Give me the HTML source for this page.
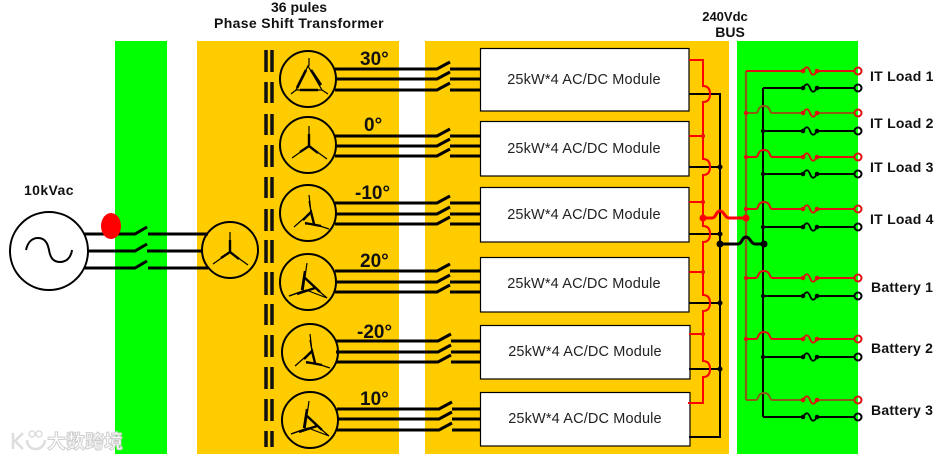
<!DOCTYPE html>
<html><head><meta charset="utf-8"><style>
html,body{margin:0;padding:0;background:#fff}
svg{display:block}
text{font-family:"Liberation Sans","Noto Sans CJK SC",sans-serif;fill:#111}
.b{font-weight:bold;font-size:14px}
.deg{font-weight:bold;font-size:19px}
.m{font-size:14.5px;text-anchor:middle;letter-spacing:.15px;fill:#222}
.l{font-weight:bold;font-size:14px;letter-spacing:.25px}
</style></head><body>
<svg width="939" height="459" viewBox="0 0 939 459" xmlns="http://www.w3.org/2000/svg">
<defs>
<g id="ph"><path d="M0 0H102L115 -7M115 0H145" fill="none" stroke="#000" stroke-width="3"/></g>
<g id="c"><circle r="28" fill="none" stroke="#000" stroke-width="2"/></g>
<g id="wye" fill="none" stroke="#000"><path d="M0 -20V0" stroke-width="1.2"/><path d="M0 -12V0" stroke-width="2.4"/><path d="M0 0L-17 12" stroke-width="1.2"/><path d="M0 0L-9 6" stroke-width="2.4"/><path d="M0 0L18 13" stroke-width="1.2"/><path d="M0 0L9 7" stroke-width="2.4"/></g>
<g id="skew" fill="none" stroke="#000"><path d="M-2 -20L0 -3L-17 12" stroke-width="1.2"/><path d="M0 -3L-2 -14" stroke-width="1.2"/><path d="M-8 5L0 -3L3 9" stroke-width="2.4"/><path d="M-6 9L3 9L18 14" stroke-width="1.2"/><path d="M-6 8L10 11" stroke-width="2.4"/></g>
<g id="skew2" fill="none" stroke="#000"><path d="M0 -20L-4 8L-18 13" stroke-width="1.2"/><path d="M-2 -12L-5 7" stroke-width="2.4"/><path d="M-18 13L-1 7L20 15" stroke-width="1.2" /><path d="M-10 11L8 5" stroke-width="2.4"/><path d="M-2 -5L13 9" stroke-width="2.4"/><path d="M13 9L20 15" stroke-width="1.2"/></g>
<g id="fuseR"><path d="M803 0c3-5 5-5 7 0s4 5 7 0" fill="none" stroke-width="1.8"/><circle cx="803" cy="0" r="1.800"/><circle cx="817" cy="0" r="1.800"/></g>
</defs>

<rect x="115" y="41" width="52" height="413" fill="#00ff00"/>
<rect x="197" y="41" width="202" height="413" fill="#ffcc00"/>
<rect x="425" y="41" width="304" height="413" fill="#ffcc00"/>
<rect x="737" y="41" width="121" height="413" fill="#00ff00"/>

<text x="299" y="12" class="b" text-anchor="middle">36 pules</text>
<text x="299" y="28" class="b" text-anchor="middle" letter-spacing=".35">Phase Shift Transformer</text>
<text x="725" y="21" class="b" text-anchor="middle" style="font-size:13px">240Vdc</text>
<text x="730" y="37" class="b" text-anchor="middle">BUS</text>
<text x="24" y="195" class="b" letter-spacing=".4">10kVac</text>

<!-- watermark -->
<g>
<path d="M13 433V449M23 433L15 441L23 449M27 440C27 452 44 452 45 440" fill="none" stroke="#ddd" stroke-width="2.5"/>
<circle cx="32" cy="434" r="3" fill="none" stroke="#ddd" stroke-width="1.5"/><circle cx="39" cy="434" r="3" fill="none" stroke="#ddd" stroke-width="1.5"/>
<text x="47" y="448" style="fill:#fff;stroke:#cfcfcf;stroke-width:1px;font-size:19px;font-weight:bold">大数跨境</text>
</g>

<!-- source -->
<circle cx="49" cy="251" r="39" fill="#fff" stroke="#000" stroke-width="2"/>
<path d="M26 250C28 241 33 238 38 238C46 238 48 245 49 250C50 256 52 262 60 262C66 262 71 258 72 250" fill="none" stroke="#000" stroke-width="2"/>
<g fill="none" stroke="#000" stroke-width="3">
<path d="M84 234H135L147 227M148 234H208"/>
<path d="M87 251H135L147 244M147 251H203"/>
<path d="M84 268H135L147 261M148 268H208"/>
</g>
<ellipse cx="111" cy="226" rx="10" ry="13" fill="#ff0000"/>
<circle cx="230" cy="250" r="28" fill="none" stroke="#000" stroke-width="2"/>
<use href="#wye" x="230" y="252"/>

<!-- core bars -->
<path d="M266 50V72M272 50V72M266 82V103M272 82V103M266 114V135M272 114V135M266 145V167M272 145V167M266 177V198M272 177V198M266 209V231M272 209V231M266 240V263M272 240V263M266 272V295M272 272V295M266 304V325M272 304V325M266 335V357M272 335V357M266 367V389M272 367V389M266 399V421M272 399V421M266 431V447M272 431V447" stroke="#111" stroke-width="3.5"/>

<!-- phase lines -->
<use href="#ph" x="335" y="69"/><use href="#ph" x="335" y="79"/><use href="#ph" x="335" y="90"/>
<use href="#ph" x="335" y="136"/><use href="#ph" x="335" y="146"/><use href="#ph" x="335" y="156"/>
<use href="#ph" x="335" y="203"/><use href="#ph" x="335" y="214"/><use href="#ph" x="335" y="224"/>
<use href="#ph" x="335" y="271"/><use href="#ph" x="335" y="282"/><use href="#ph" x="335" y="292"/>
<use href="#ph" x="336" y="341"/><use href="#ph" x="336" y="352"/><use href="#ph" x="336" y="362"/>
<use href="#ph" x="337" y="409"/><use href="#ph" x="337" y="419"/><use href="#ph" x="337" y="430"/>

<!-- small circles -->
<use href="#c" x="308" y="79"/><use href="#c" x="308" y="145"/><use href="#c" x="308" y="213"/><use href="#c" x="308" y="282"/><use href="#c" x="310" y="352"/><use href="#c" x="310" y="420"/>
<g fill="none" stroke="#000">
<path d="M309 58V66M296 90L291 94M322 90L328 94" stroke-width="1.2"/>
<path d="M308 66L296 90H322Z" stroke-width="1.2"/>
<path d="M306 70L297 88M311 70L321 85M300 90H318" stroke-width="2.6"/>
</g>
<use href="#wye" x="309" y="146"/>
<use href="#skew" x="311" y="215"/>
<use href="#skew2" x="307" y="283"/>
<use href="#skew" x="312" y="354"/>
<use href="#skew2" x="309" y="421"/>

<text x="360" y="65" class="deg">30°</text>
<text x="364" y="131" class="deg">0°</text>
<text x="355" y="199" class="deg">-10°</text>
<text x="360" y="267" class="deg">20°</text>
<text x="357" y="338" class="deg">-20°</text>
<text x="360" y="405" class="deg">10°</text>

<!-- modules -->
<g fill="#fff" stroke="#000" stroke-width="1.2">
<rect x="480.500" y="48.500" width="208.500" height="62.500"/>
<rect x="480.500" y="121.500" width="208.500" height="54.500"/>
<rect x="480.500" y="187.500" width="208.500" height="54.500"/>
<rect x="480.500" y="257.500" width="208.500" height="54.500"/>
<rect x="480.500" y="325.500" width="209.500" height="53.500"/>
<rect x="480.500" y="392.500" width="209.500" height="53.500"/>
</g>
<text x="584" y="84" class="m">25kW*4 AC/DC Module</text>
<text x="584" y="153" class="m">25kW*4 AC/DC Module</text>
<text x="584" y="219" class="m">25kW*4 AC/DC Module</text>
<text x="584" y="288" class="m">25kW*4 AC/DC Module</text>
<text x="585" y="356" class="m">25kW*4 AC/DC Module</text>
<text x="585" y="423" class="m">25kW*4 AC/DC Module</text>

<!-- left DC bus -->
<path d="M689 94H720V437H689M689 167H720M689 234H720M689 303H720M689 369H720" fill="none" stroke="#000" stroke-width="2"/>
<g fill="#000"><circle cx="720" cy="167" r="2.500"/><circle cx="720" cy="234" r="2.500"/><circle cx="720" cy="303" r="2.500"/><circle cx="720" cy="369" r="2.500"/></g>
<path d="M689 60H703V86c5 0 7 3 7 8s-2 8-7 8V159c5 0 7 3 7 8s-2 8-7 8V226c5 0 7 3 7 8s-2 8-7 8V295c5 0 7 3 7 8s-2 8-7 8V361c5 0 7 3 7 8s-2 8-7 8V403H688M689 136H703M689 202H703M689 272H703M689 334H703" fill="none" stroke="#ff0000" stroke-width="2"/>
<g fill="#ff0000"><circle cx="703" cy="136" r="2"/><circle cx="703" cy="202" r="2"/><circle cx="703" cy="272" r="2"/><circle cx="703" cy="334" r="2"/></g>

<!-- right bus -->
<path d="M746 71V400" fill="none" stroke="#8a5c14" stroke-width="2.200"/>
<path d="M763 88V417" fill="none" stroke="#000" stroke-width="2"/>

<!-- link lines -->
<path d="M703 218H712C716 218 716 211 720 211S725 218 729 218H746" fill="none" stroke="#ff0000" stroke-width="3"/>
<circle cx="703" cy="218" r="3.500" fill="#ff0000"/><circle cx="746" cy="218" r="3.500" fill="#ff0000"/>
<path d="M720 244H738C742 244 742 237 746 237S751 244 755 244H764" fill="none" stroke="#000" stroke-width="3"/>
<circle cx="720" cy="244" r="3.500"/><circle cx="764" cy="244" r="3.500"/>

<!-- output rows: positive -->
<g fill="none" stroke-width="2">
<path d="M746 71H803M817 71H855" stroke="#e01010"/>
<path d="M746 113H756C759 113 757 106 764 106S769 113 772 113H803M817 113H855" stroke="#8a5c14"/>
<path d="M746 157H756C759 157 757 150 764 150S769 157 772 157H803M817 157H855" stroke="#e01010"/>
<path d="M746 209H756C759 209 757 202 764 202S769 209 772 209H803M817 209H855" stroke="#e01010"/>
<path d="M746 278H756C759 278 757 271 764 271S769 278 772 278H803M817 278H855" stroke="#e01010"/>
<path d="M746 339H756C759 339 757 332 764 332S769 339 772 339H803M817 339H855" stroke="#e01010"/>
<path d="M746 400H756C759 400 757 393 764 393S769 400 772 400H803M817 400H855" stroke="#8a5c14"/>
</g>
<g fill="#e01010"><circle cx="746" cy="113" r="2"/><circle cx="746" cy="157" r="2"/><circle cx="746" cy="209" r="2"/><circle cx="746" cy="278" r="2"/><circle cx="746" cy="339" r="2"/></g>
<g fill="#e01010" stroke="#e01010">
<use href="#fuseR" y="71"/><use href="#fuseR" y="113"/><use href="#fuseR" y="157"/><use href="#fuseR" y="209"/><use href="#fuseR" y="278"/><use href="#fuseR" y="339"/><use href="#fuseR" y="400"/>
</g>
<g fill="none" stroke="#e01010" stroke-width="2">
<circle cx="858" cy="71" r="3.500"/><circle cx="858" cy="113" r="3.500"/><circle cx="858" cy="157" r="3.500"/><circle cx="858" cy="209" r="3.500"/><circle cx="858" cy="278" r="3.500"/><circle cx="858" cy="339" r="3.500"/><circle cx="858" cy="400" r="3.500"/>
</g>

<!-- output rows: negative -->
<path d="M763 88H803M817 88H855M763 131H803M817 131H855M763 174H803M817 174H855M763 227H803M817 227H855M763 296H803M817 296H855M763 357H803M817 357H855M763 417H803M817 417H855" fill="none" stroke="#000" stroke-width="2"/>
<g fill="#000"><circle cx="763" cy="131" r="2"/><circle cx="763" cy="174" r="2"/><circle cx="763" cy="227" r="2"/><circle cx="763" cy="296" r="2"/><circle cx="763" cy="357" r="2"/></g>
<g fill="#000" stroke="#000">
<use href="#fuseR" y="88"/><use href="#fuseR" y="131"/><use href="#fuseR" y="174"/><use href="#fuseR" y="227"/><use href="#fuseR" y="296"/><use href="#fuseR" y="357"/><use href="#fuseR" y="417"/>
</g>
<g fill="none" stroke="#000" stroke-width="2">
<circle cx="858" cy="88" r="3.500"/><circle cx="858" cy="131" r="3.500"/><circle cx="858" cy="174" r="3.500"/><circle cx="858" cy="227" r="3.500"/><circle cx="858" cy="296" r="3.500"/><circle cx="858" cy="357" r="3.500"/><circle cx="858" cy="417" r="3.500"/>
</g>

<text x="870" y="81" class="l">IT Load 1</text>
<text x="870" y="128" class="l">IT Load 2</text>
<text x="870" y="172" class="l">IT Load 3</text>
<text x="870" y="224" class="l">IT Load 4</text>
<text x="871" y="292" class="l">Battery  1</text>
<text x="871" y="353" class="l">Battery 2</text>
<text x="871" y="415" class="l">Battery 3</text>
</svg>
</body></html>
